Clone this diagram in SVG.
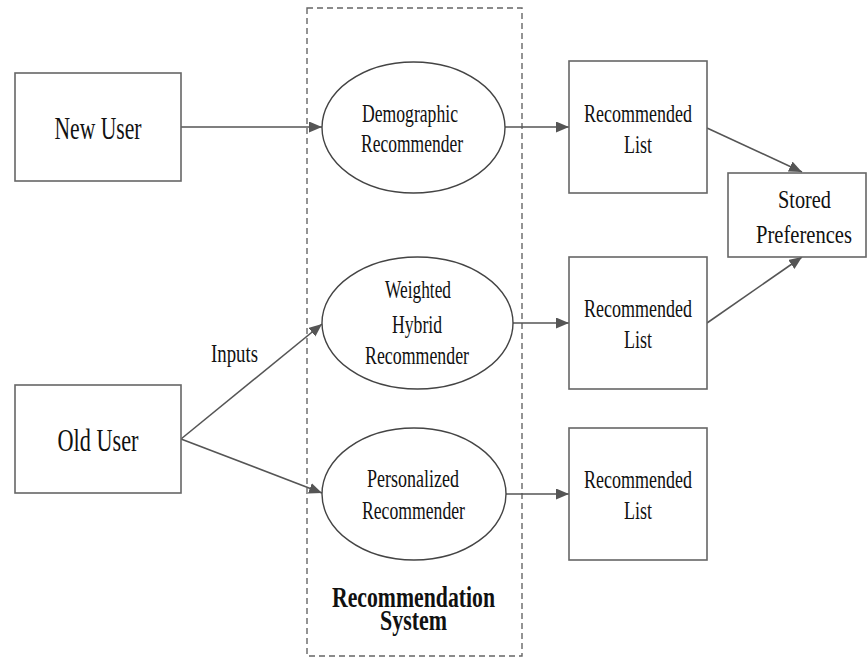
<svg xmlns="http://www.w3.org/2000/svg" width="868" height="658" viewBox="0 0 868 658">
<style>
.box{fill:#fff;stroke:#666;stroke-width:1.6}
.ell{fill:#fff;stroke:#444;stroke-width:1.4}
.t{font-family:"Liberation Serif","Times New Roman",serif;font-size:26px;fill:#111;text-anchor:middle}
.big{font-size:31px}
.sm{font-size:24.5px}
.bold{font-weight:bold;font-size:29px}
.edge{stroke:#555;stroke-width:1.6;fill:none;marker-end:url(#ah)}
.sys{fill:none;stroke:#666;stroke-width:1.4;stroke-dasharray:6 4}
</style>
<defs>
<marker id="ah" markerUnits="userSpaceOnUse" markerWidth="14" markerHeight="12" refX="13" refY="5.5" orient="auto">
<path d="M0,0 L13,5.5 L0,11 Z" fill="#555"/>
</marker>
</defs>
<rect width="868" height="658" fill="#fff"/>
<g id="recommendation-system">
<rect class="sys" x="307" y="8" width="215" height="648"/>
<text class="t bold" x="413.5" y="607" textLength="163" lengthAdjust="spacingAndGlyphs">Recommendation</text>
<text class="t bold" x="413.5" y="630" textLength="67" lengthAdjust="spacingAndGlyphs">System</text>
</g>
<g id="edges">
<line class="edge" x1="181" y1="127" x2="322" y2="127"/>
<line class="edge" x1="505" y1="127" x2="569" y2="127"/>
<line class="edge" x1="707" y1="128" x2="802" y2="172"/>
<line class="edge" x1="513" y1="323" x2="569" y2="323"/>
<line class="edge" x1="707" y1="323" x2="802" y2="257"/>
<line class="edge" x1="181" y1="439" x2="322" y2="324"/>
<line class="edge" x1="181" y1="439" x2="322" y2="493"/>
<line class="edge" x1="506" y1="494" x2="569" y2="494"/>
<text class="t" x="234.5" y="362" textLength="47" lengthAdjust="spacingAndGlyphs">Inputs</text>
</g>
<g id="new-user">
<rect class="box" x="15" y="73" width="166" height="108"/>
<text class="t big" x="98" y="139" textLength="87" lengthAdjust="spacingAndGlyphs">New User</text>
</g>
<g id="old-user">
<rect class="box" x="15" y="385" width="166" height="108"/>
<text class="t big" x="98" y="451" textLength="81" lengthAdjust="spacingAndGlyphs">Old User</text>
</g>
<g id="demographic-recommender">
<ellipse class="ell" cx="413.5" cy="127.5" rx="91.5" ry="65.5"/>
<text class="t" x="410" y="122" textLength="96" lengthAdjust="spacingAndGlyphs">Demographic</text>
<text class="t" x="412" y="152" textLength="102" lengthAdjust="spacingAndGlyphs">Recommender</text>
</g>
<g id="weighted-hybrid-recommender">
<ellipse class="ell" cx="417.5" cy="323" rx="95.5" ry="66"/>
<text class="t" x="418" y="298" textLength="66" lengthAdjust="spacingAndGlyphs">Weighted</text>
<text class="t" x="417" y="333" textLength="50" lengthAdjust="spacingAndGlyphs">Hybrid</text>
<text class="t" x="417" y="364" textLength="104" lengthAdjust="spacingAndGlyphs">Recommender</text>
</g>
<g id="personalized-recommender">
<ellipse class="ell" cx="414" cy="494" rx="92" ry="66"/>
<text class="t" x="413" y="487" textLength="92" lengthAdjust="spacingAndGlyphs">Personalized</text>
<text class="t" x="413.5" y="519" textLength="103" lengthAdjust="spacingAndGlyphs">Recommender</text>
</g>
<g id="recommended-list-1">
<rect class="box" x="569" y="61" width="138" height="132"/>
<text class="t" x="638" y="122" textLength="108" lengthAdjust="spacingAndGlyphs">Recommended</text>
<text class="t" x="638" y="153" textLength="28" lengthAdjust="spacingAndGlyphs">List</text>
</g>
<g id="recommended-list-2">
<rect class="box" x="569" y="257" width="138" height="132"/>
<text class="t" x="638" y="317" textLength="108" lengthAdjust="spacingAndGlyphs">Recommended</text>
<text class="t" x="638" y="348" textLength="28" lengthAdjust="spacingAndGlyphs">List</text>
</g>
<g id="recommended-list-3">
<rect class="box" x="569" y="428" width="138" height="132"/>
<text class="t" x="638" y="488" textLength="108" lengthAdjust="spacingAndGlyphs">Recommended</text>
<text class="t" x="638" y="519" textLength="28" lengthAdjust="spacingAndGlyphs">List</text>
</g>
<g id="stored-preferences">
<rect class="box" x="728" y="173" width="138" height="84"/>
<text class="t sm" x="804.5" y="208" textLength="53" lengthAdjust="spacingAndGlyphs">Stored</text>
<text class="t sm" x="804" y="243" textLength="96" lengthAdjust="spacingAndGlyphs">Preferences</text>
</g>
</svg>
